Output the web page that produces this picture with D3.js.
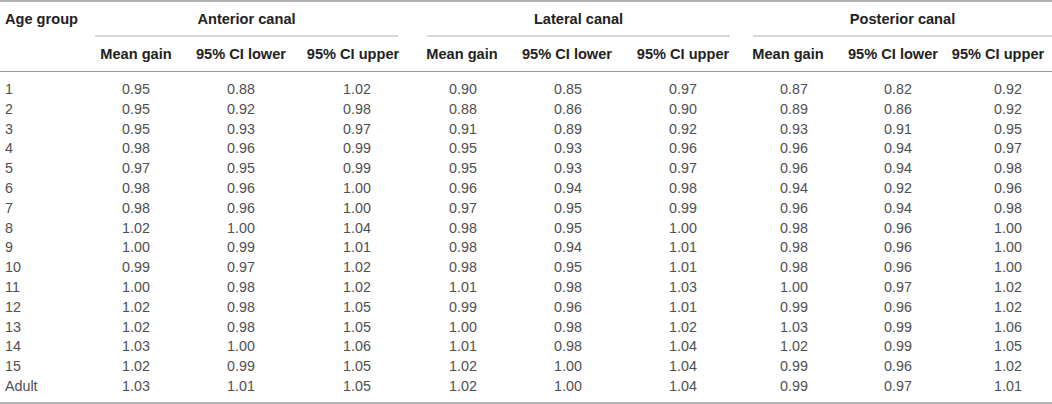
<!DOCTYPE html>
<html>
<head>
<meta charset="utf-8">
<script src="https://cdn.jsdelivr.net/npm/d3@7"></script>
<style>
  body { margin: 0; background: #fff; }
  svg text { font-family: "Liberation Sans", Arial, sans-serif; }
</style>
</head>
<body>
<div id="table"></div>
<script>
// table data
const ageGroups = ["1","2","3","4","5","6","7","8","9","10","11","12","13","14","15","Adult"];
const canals = ["Anterior canal", "Lateral canal", "Posterior canal"];
const measures = ["Mean gain", "95% CI lower", "95% CI upper"];

const anteriorMean  = [0.95,0.95,0.95,0.98,0.97,0.98,0.98,1.02,1.00,0.99,1.00,1.02,1.02,1.03,1.02,1.03];
const anteriorLower = [0.88,0.92,0.93,0.96,0.95,0.96,0.96,1.00,0.99,0.97,0.98,0.98,0.98,1.00,0.99,1.01];
const anteriorUpper = [1.02,0.98,0.97,0.99,0.99,1.00,1.00,1.04,1.01,1.02,1.02,1.05,1.05,1.06,1.05,1.05];
const lateralMean   = [0.90,0.88,0.91,0.95,0.95,0.96,0.97,0.98,0.98,0.98,1.01,0.99,1.00,1.01,1.02,1.02];
const lateralLower  = [0.85,0.86,0.89,0.93,0.93,0.94,0.95,0.95,0.94,0.95,0.98,0.96,0.98,0.98,1.00,1.00];
const lateralUpper  = [0.97,0.90,0.92,0.96,0.97,0.98,0.99,1.00,1.01,1.01,1.03,1.01,1.02,1.04,1.04,1.04];
const posteriorMean = [0.87,0.89,0.93,0.96,0.96,0.94,0.96,0.98,0.98,0.98,1.00,0.99,1.03,1.02,0.99,0.99];
const posteriorLower= [0.82,0.86,0.91,0.94,0.94,0.92,0.94,0.96,0.96,0.96,0.97,0.96,0.99,0.99,0.96,0.97];
const posteriorUpper= [0.92,0.92,0.95,0.97,0.98,0.96,0.98,1.00,1.00,1.00,1.02,1.02,1.06,1.05,1.02,1.01];

const columns = [anteriorMean, anteriorLower, anteriorUpper,
                 lateralMean, lateralLower, lateralUpper,
                 posteriorMean, posteriorLower, posteriorUpper];

const width = 1052, height = 404;

const svg = d3.select("#table").append("svg")
    .attr("width", width)
    .attr("height", height);

const colKeys = d3.range(columns.length);
// centre of each column's header and its numbers
const headX = d3.scaleOrdinal().domain(colKeys).range([136, 241, 353, 462, 567, 683, 788, 893, 998]);
const cellX = d3.scaleOrdinal().domain(colKeys).range([136, 241, 357, 463, 568, 683, 794, 898, 1008]);
// group spans (start, end) for the canal headings
const groupX0 = d3.scaleOrdinal().domain(canals).range([95, 427, 753]);
const groupX1 = d3.scaleOrdinal().domain(canals).range([398, 730, 1052]);
// row baselines
const rowY = d3.scaleLinear().domain([0, ageGroups.length - 1]).range([94, 391]);

const lineColor = "#9a9a9a";
const headSize = 14.6, bodySize = 14.3;

// rules
svg.append("line").attr("x1", 0).attr("x2", width).attr("y1", 1).attr("y2", 1)
    .attr("stroke", lineColor).attr("stroke-width", 1.5);
svg.append("line").attr("x1", 0).attr("x2", width).attr("y1", 71.5).attr("y2", 71.5)
    .attr("stroke", lineColor).attr("stroke-width", 1);
svg.append("line").attr("x1", 0).attr("x2", width).attr("y1", 403).attr("y2", 403)
    .attr("stroke", lineColor).attr("stroke-width", 1.5);

svg.selectAll(".group-rule").data(canals).join("line")
    .attr("class", "group-rule")
    .attr("x1", d => groupX0(d)).attr("x2", d => groupX1(d))
    .attr("y1", 36).attr("y2", 36)
    .attr("stroke", "#b0b0b0").attr("stroke-width", 1);

// headers
svg.append("text").attr("x", 5).attr("y", 24)
    .attr("font-size", headSize).attr("font-weight", "bold").attr("fill", "#222")
    .text("Age group");

svg.selectAll(".group-head").data(canals).join("text")
    .attr("class", "group-head")
    .attr("x", d => (groupX0(d) + groupX1(d)) / 2)
    .attr("y", 24)
    .attr("text-anchor", "middle")
    .attr("font-size", headSize).attr("font-weight", "bold").attr("fill", "#222")
    .text(d => d);

svg.selectAll(".col-head").data(colKeys).join("text")
    .attr("class", "col-head")
    .attr("x", d => headX(d))
    .attr("y", 59)
    .attr("text-anchor", "middle")
    .attr("font-size", headSize).attr("font-weight", "bold").attr("fill", "#222")
    .text(d => measures[d % 3]);

// body
svg.selectAll(".age").data(ageGroups).join("text")
    .attr("class", "age")
    .attr("x", 5)
    .attr("y", (d, i) => rowY(i))
    .attr("font-size", bodySize).attr("fill", "#505050")
    .text(d => d);

colKeys.forEach(c => {
    svg.selectAll(".cell-" + c).data(columns[c]).join("text")
        .attr("class", "cell-" + c)
        .attr("x", cellX(c))
        .attr("y", (d, i) => rowY(i))
        .attr("text-anchor", "middle")
        .attr("font-size", bodySize).attr("fill", "#505050")
        .text(d => d3.format(".2f")(d));
});
</script>
</body>
</html>
